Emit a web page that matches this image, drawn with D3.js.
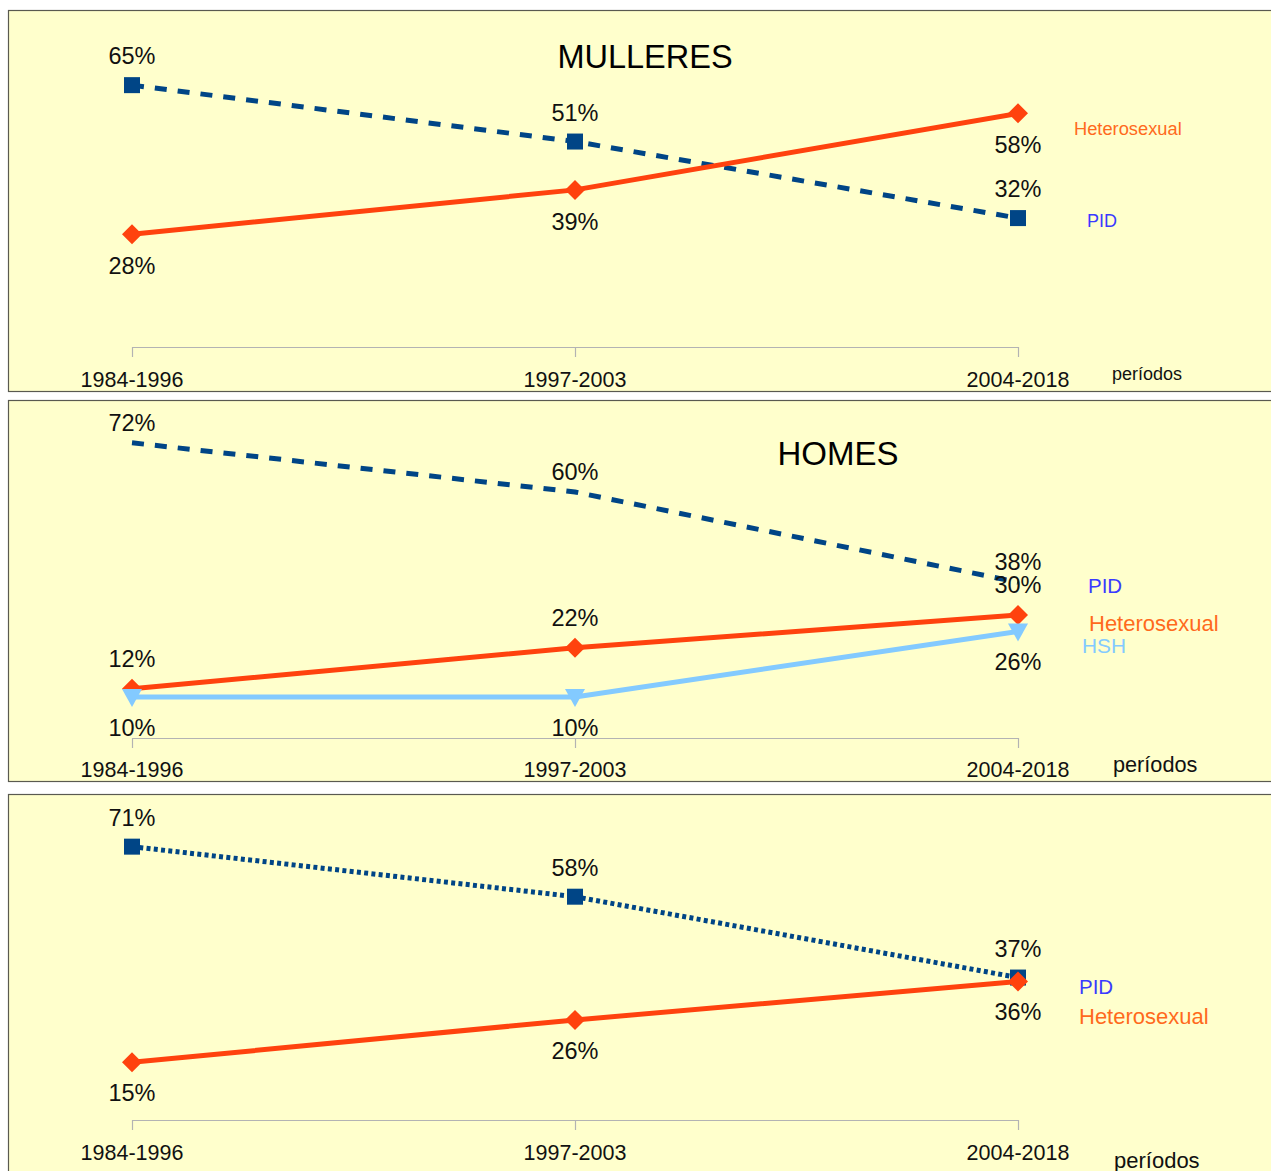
<!DOCTYPE html>
<html>
<head>
<meta charset="utf-8">
<script src="https://cdn.jsdelivr.net/npm/d3@7"></script>
<style>
  html, body { margin: 0; padding: 0; background: #ffffff; }
  svg { display: block; font-family: "Liberation Sans", Arial, sans-serif; }
</style>
</head>
<body>
<svg id="chart" width="1271" height="1171"></svg>
<script>
// Periods on the horizontal axis
const periods = ["1984-1996", "1997-2003", "2004-2018"];

// Women
const mulleresPID = [65, 51, 32];
const mulleresHetero = [28, 39, 58];

// Men
const homesPID = [72, 60, 38];
const homesHetero = [12, 22, 30];
const homesHSH = [10, 10, 26];

// Total
const totalPID = [71, 58, 37];
const totalHetero = [15, 26, 36];

const svg = d3.select("#chart");

const COL_PID = "#004586";
const COL_HET = "#ff420e";
const COL_HSH = "#83caff";
const TXT_PID = "#3a3aff";
const TXT_HET = "#ff6a1c";

const x = d3.scalePoint().domain(periods).range([132, 1018]);

// marker shapes centred on the point
const markers = {
  square: "M-8,-8H8V8H-8Z",
  diamond: "M0,-10L10,0L0,10L-10,0Z",
  triangle: "M-10,-8H10L0,10Z"
};

const panels = [
  {
    top: 10, bottom: 391, zero: 347, yTop: 65,
    title: "MULLERES", titleX: 645, titleY: 68, titleSize: 32.5,
    periodY: 387, periodSize: 21.5, axisLabel: { x: 1112, y: 380, size: 18 },
    series: [
      { values: mulleresPID, color: COL_PID, dash: "12,11", marker: "square", dy: -21,
        name: "PID", nameColor: TXT_PID, nameX: 1087, nameY: 227, nameSize: 18 },
      { values: mulleresHetero, color: COL_HET, dash: null, marker: "diamond", dy: 40,
        name: "Heterosexual", nameColor: TXT_HET, nameX: 1074, nameY: 135, nameSize: 18.3 }
    ]
  },
  {
    top: 400, bottom: 781, zero: 738, yTop: 451,
    title: "HOMES", titleX: 838, titleY: 465, titleSize: 33,
    periodY: 777, periodSize: 21.5, axisLabel: { x: 1113, y: 772, size: 21.7 },
    series: [
      { values: homesPID, color: COL_PID, dash: "12,11", marker: null, dy: -12,
        name: "PID", nameColor: TXT_PID, nameX: 1088, nameY: 593, nameSize: 20.5 },
      { values: homesHetero, color: COL_HET, dash: null, marker: "diamond", dy: -22,
        name: "Heterosexual", nameColor: TXT_HET, nameX: 1089, nameY: 631, nameSize: 22 },
      { values: homesHSH, color: COL_HSH, dash: null, marker: "triangle", dy: 39,
        name: "HSH", nameColor: COL_HSH, nameX: 1082, nameY: 653, nameSize: 20.8 }
    ]
  },
  {
    top: 794, bottom: 1190, zero: 1120, yTop: 850.5,
    title: null,
    periodY: 1160, periodSize: 21.5, axisLabel: { x: 1114, y: 1168, size: 22 },
    series: [
      { values: totalPID, color: COL_PID, dash: "4,3.3", marker: "square", dy: -21,
        name: "PID", nameColor: TXT_PID, nameX: 1079, nameY: 994, nameSize: 20.5 },
      { values: totalHetero, color: COL_HET, dash: null, marker: "diamond", dy: 39,
        name: "Heterosexual", nameColor: TXT_HET, nameX: 1079, nameY: 1024, nameSize: 22 }
    ]
  }
];

panels.forEach(p => {
  const g = svg.append("g");

  // panel background and frame
  g.append("rect")
    .attr("x", 8.5).attr("y", p.top + 0.5)
    .attr("width", 1300).attr("height", p.bottom - p.top)
    .attr("fill", "#ffffcc")
    .attr("stroke", "#5a5a50").attr("stroke-width", 1.2);

  const y = d3.scaleLinear().domain([0, 70]).range([p.zero, p.yTop]);

  // category axis: baseline with downward ticks
  const axis = d3.axisBottom(x).tickSize(10).tickSizeOuter(0).tickPadding(16);
  const ax = g.append("g").attr("transform", `translate(0,${p.zero})`).call(axis);
  ax.select(".domain").attr("stroke", "#b3b3b3").attr("stroke-width", 1.2);
  ax.selectAll(".tick line").attr("stroke", "#b3b3b3").attr("stroke-width", 1.2);
  ax.selectAll(".tick text").remove();
  g.selectAll(".period")
    .data(periods).enter().append("text")
    .attr("x", d => x(d)).attr("y", p.periodY)
    .attr("text-anchor", "middle")
    .attr("font-size", p.periodSize).attr("fill", "#111")
    .text(d => d);

  g.append("text")
    .attr("x", p.axisLabel.x).attr("y", p.axisLabel.y)
    .attr("font-size", p.axisLabel.size).attr("fill", "#111")
    .text("períodos");

  if (p.title) {
    g.append("text")
      .attr("x", p.titleX).attr("y", p.titleY)
      .attr("text-anchor", "middle")
      .attr("font-size", p.titleSize).attr("fill", "#000")
      .text(p.title);
  }

  const line = d3.line().x((d, i) => x(periods[i])).y(d => y(d));

  p.series.forEach(s => {
    g.append("path")
      .datum(s.values)
      .attr("d", line)
      .attr("fill", "none")
      .attr("stroke", s.color)
      .attr("stroke-width", 5)
      .attr("stroke-dasharray", s.dash)
      .attr("stroke-linejoin", "round");

    if (s.marker) {
      g.selectAll(null)
        .data(s.values).enter().append("path")
        .attr("d", markers[s.marker])
        .attr("transform", (d, i) => `translate(${x(periods[i])},${y(d)})`)
        .attr("fill", s.color);
    }
  });

  // value labels
  p.series.forEach(s => {
    g.selectAll(null)
      .data(s.values).enter().append("text")
      .attr("x", (d, i) => x(periods[i]))
      .attr("y", d => y(d) + s.dy)
      .attr("text-anchor", "middle")
      .attr("font-size", 23.5).attr("fill", "#111")
      .text(d => d + "%");

    g.append("text")
      .attr("x", s.nameX).attr("y", s.nameY)
      .attr("font-size", s.nameSize).attr("fill", s.nameColor)
      .text(s.name);
  });
});
</script>
</body>
</html>
